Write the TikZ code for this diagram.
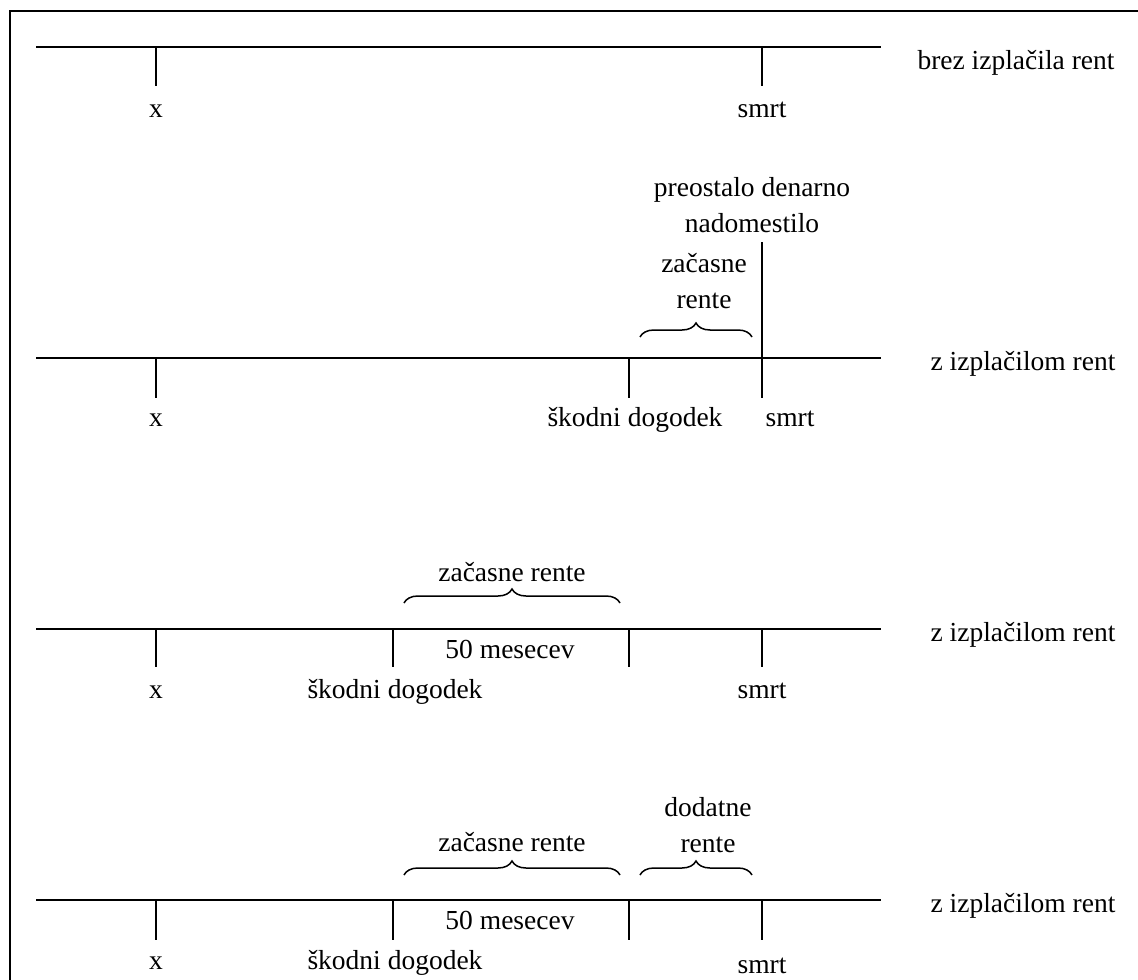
\documentclass[tikz,border=0pt]{standalone}
\usepackage{fontspec}
\setmainfont{Liberation Serif}
\usetikzlibrary{positioning,decorations.pathreplacing}

\begin{document}
\begin{tikzpicture}[x=1pt,y=-1pt,line width=2.4pt,
    lbl/.style={inner sep=0pt,anchor=base,align=center,font=\fontsize{27.5}{36}\selectfont},
    tick/.style={line width=2pt},
    brc/.style={decorate,decoration={brace,amplitude=14pt},line width=1.5pt}]
  \useasboundingbox (0,0) rectangle (1138,980);
  % frame
  \draw[line width=2pt] (10,980) -- (10,11) -- (1138,11);

  % brez izplacila rent
  \coordinate (a_l) at (36,47);
  \coordinate (a_r) at (881,47);
  \draw (a_l) -- (a_r);
  \draw[tick] (156,47) -- (156,86) coordinate (a_x);
  \draw[tick] (762,47) -- (762,86) coordinate (a_s);
  \node[lbl] (a_xl) at (156,117) {x};
  \node[lbl] (a_sl) at (762,117) {smrt};
  \node[lbl] (a_t) at (1016,69) {brez izplačila rent};

  % z izplacilom rent, smrt po dogodku
  \coordinate (b_l) at (36,358);
  \coordinate (b_r) at (881,358);
  \draw (b_l) -- (b_r);
  \draw[tick] (156,358) -- (156,398) coordinate (b_x);
  \draw[tick] (629,358) -- (629,398) coordinate (b_d);
  \draw[tick] (762,242) -- (762,398) coordinate (b_s);
  \node[lbl] (b_xl) at (156,426) {x};
  \node[lbl] (b_dl) at (635,426) {škodni dogodek};
  \node[lbl] (b_sl) at (790,426) {smrt};
  \node[lbl] (b_t) at (1023,370) {z izplačilom rent};
  \node[lbl] (b_p) at (752,232) {preostalo denarno\\nadomestilo};
  \node[lbl] (b_z) at (704,308) {začasne\\rente};
  \draw[brc] (640,337) coordinate (b_bl) -- (752,337) coordinate (b_br);

  % z izplacilom rent, 50 mesecev
  \coordinate (c_l) at (36,629);
  \coordinate (c_r) at (881,629);
  \draw (c_l) -- (c_r);
  \draw[tick] (156,629) -- (156,667) coordinate (c_x);
  \draw[tick] (393,629) -- (393,667) coordinate (c_d);
  \draw[tick] (629,629) -- (629,667) coordinate (c_m);
  \draw[tick] (762,629) -- (762,667) coordinate (c_s);
  \node[lbl] (c_xl) at (156,698) {x};
  \node[lbl] (c_dl) at (395,698) {škodni dogodek};
  \node[lbl] (c_sl) at (762,698) {smrt};
  \node[lbl] (c_ml) at (510,658) {50 mesecev};
  \node[lbl] (c_t) at (1023,641) {z izplačilom rent};
  \node[lbl] (c_z) at (512,581) {začasne rente};
  \draw[brc] (404,603) coordinate (c_bl) -- (620,603) coordinate (c_br);

  % z izplacilom rent, dodatne rente
  \coordinate (d_l) at (36,900);
  \coordinate (d_r) at (881,900);
  \draw (d_l) -- (d_r);
  \draw[tick] (156,900) -- (156,940) coordinate (d_x);
  \draw[tick] (393,900) -- (393,940) coordinate (d_d);
  \draw[tick] (629,900) -- (629,940) coordinate (d_m);
  \draw[tick] (762,900) -- (762,940) coordinate (d_s);
  \node[lbl] (d_xl) at (156,969) {x};
  \node[lbl] (d_dl) at (395,969) {škodni dogodek};
  \node[lbl] (d_sl) at (762,973) {smrt};
  \node[lbl] (d_ml) at (510,929) {50 mesecev};
  \node[lbl] (d_t) at (1023,912) {z izplačilom rent};
  \node[lbl] (d_z) at (512,851) {začasne rente};
  \node[lbl] (d_a) at (708,852) {dodatne\\rente};
  \draw[brc] (404,875) coordinate (d_bl) -- (620,875) coordinate (d_br);
  \draw[brc] (640,875) coordinate (d_cl) -- (752,875) coordinate (d_cr);
\end{tikzpicture}
\end{document}
